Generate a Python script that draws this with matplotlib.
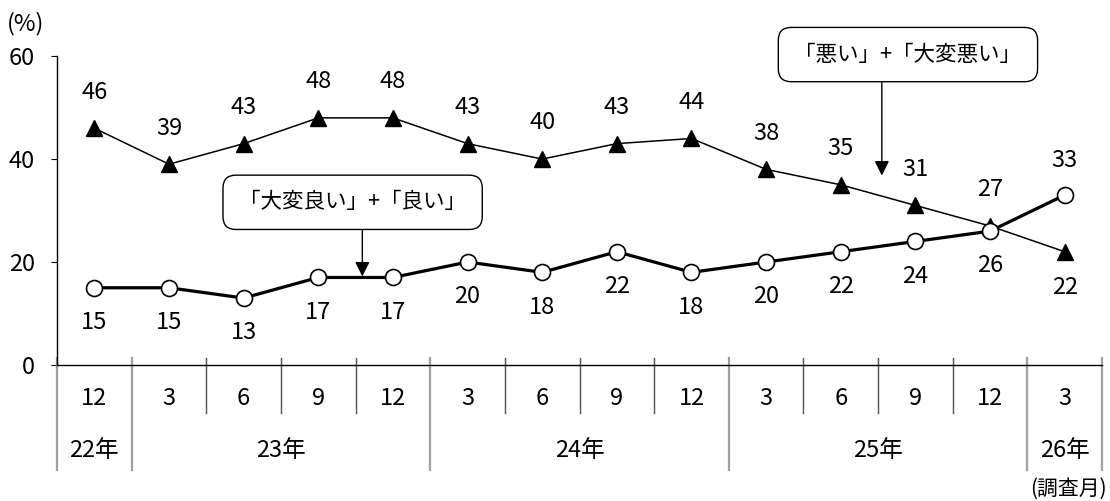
import matplotlib.pyplot as plt
import matplotlib.transforms as mtransforms

plt.rcParams['font.family'] = ['Noto Sans CJK JP', 'DejaVu Sans']

months = ['12', '3', '6', '9', '12', '3', '6', '9', '12', '3', '6', '9', '12', '3']
years = ['22年', '23年', '24年', '25年', '26年']
year_spans = [1, 4, 4, 4, 1]

bad = [46, 39, 43, 48, 48, 43, 40, 43, 44, 38, 35, 31, 27, 22]
good = [15, 15, 13, 17, 17, 20, 18, 22, 18, 20, 22, 24, 26, 33]

# label goes above (+1) or below (-1) the point
bad_side = [1] * 13 + [-1]
good_side = [-1] * 13 + [1]

FS = 17

fig = plt.figure(figsize=(11.1, 5.01), dpi=100)
ax = fig.add_axes([0.0514, 0.2715, 0.9414, 0.6165])

x = list(range(len(months)))
ax.plot(x, bad, color='black', lw=1.1, marker='^', ms=12,
        mfc='black', mec='black', zorder=3)
ax.plot(x, good, color='black', lw=2.3, marker='o', ms=11.5,
        mfc='white', mec='black', mew=1.2, zorder=4)

for xi, v, s in zip(x, bad, bad_side):
    ax.annotate(str(v), (xi, v), xytext=(0, 26 * s), textcoords='offset points',
                ha='center', va='center', fontsize=FS)
for xi, v, s in zip(x, good, good_side):
    ax.annotate(str(v), (xi, v), xytext=(0, 25 * s), textcoords='offset points',
                ha='center', va='center', fontsize=FS)

ax.set_xlim(-0.5, len(months) - 0.5)
ax.set_ylim(0, 60)
ax.set_yticks([0, 20, 40, 60])
ax.tick_params(axis='y', labelsize=FS, length=4, pad=12)
ax.set_xticks([])
for side in ['top', 'right']:
    ax.spines[side].set_visible(False)
ax.spines['left'].set_linewidth(1)
ax.spines['bottom'].set_linewidth(1)

# category axis table below the plot
trans = mtransforms.blended_transform_factory(ax.transData, ax.transAxes)
year_edges = [0]
for n in year_spans:
    year_edges.append(year_edges[-1] + n)
for k in range(len(months) + 1):
    if k in year_edges:
        ax.plot([k - 0.5, k - 0.5], [0.023, -0.34], transform=trans,
                color='#a0a0a0', lw=1.6, clip_on=False)
    else:
        ax.plot([k - 0.5, k - 0.5], [0.023, -0.155], transform=trans,
                color='#505050', lw=1, clip_on=False)
for xi, m in zip(x, months):
    ax.text(xi, -0.11, m, transform=trans, ha='center', va='center', fontsize=FS)
for i, y in enumerate(years):
    c = (year_edges[i] + year_edges[i + 1] - 1) / 2
    ax.text(c, -0.278, y, transform=trans, ha='center', va='center', fontsize=FS)

fig.text(0.006, 0.952, '(%)', ha='left', va='center', fontsize=FS)
fig.text(0.997, 0.025, '(調査月)', ha='right', va='center', fontsize=15)

# callout boxes with vertical arrows
box = dict(boxstyle='round,pad=0.75,rounding_size=0.6', fc='white', ec='black', lw=1)
arrow = dict(arrowstyle='-|>', color='black', lw=1, mutation_scale=22,
             shrinkA=0, shrinkB=0)

ax.text(3.46, 31.6, '「大変良い」+「良い」', ha='center', va='center',
        fontsize=15.5, bbox=box, zorder=6, clip_on=False)
ax.annotate('', xy=(3.59, 17.2), xytext=(3.59, 26.2), arrowprops=arrow,
            annotation_clip=False, zorder=5)

ax.text(10.9, 60.3, '「悪い」+「大変悪い」', ha='center', va='center',
        fontsize=15.5, bbox=box, zorder=6, clip_on=False)
ax.annotate('', xy=(10.55, 36.8), xytext=(10.55, 55.0), arrowprops=arrow,
            annotation_clip=False, zorder=5)

fig.savefig('out.png', dpi=100)
